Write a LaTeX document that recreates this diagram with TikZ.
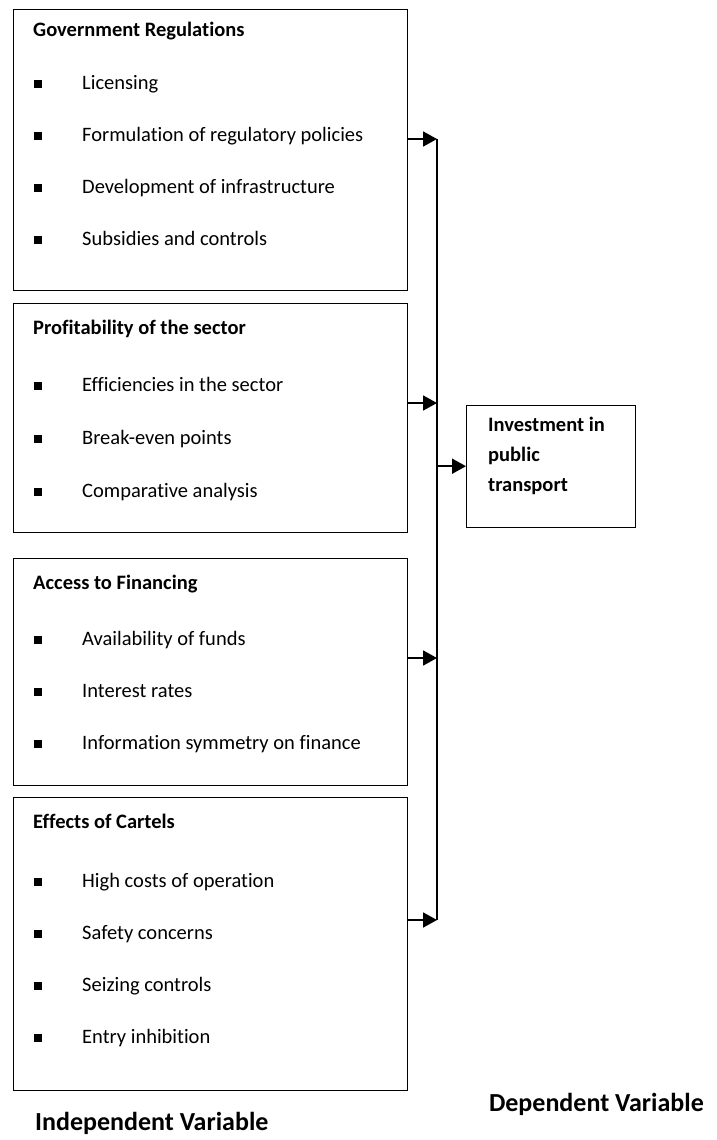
\documentclass[tikz,border=0pt]{standalone}
\usepackage{fontspec}
\setmainfont{Carlito}[Ligatures = NoCommon]
\usepackage{tikz}
\usetikzlibrary{arrows.meta}

\begin{document}
\begin{tikzpicture}[x=1pt, y=-1pt,
		factorbox/.style = {draw = black, line width = 1.4pt, anchor = north west, minimum width = 394pt, inner sep = 0pt},
		head/.style = {anchor = base west, inner sep = 0pt, font = \fontsize{20.5}{30}\selectfont\bfseries},
		entry/.style = {anchor = base west, inner sep = 0pt, font = \fontsize{20.5}{30}\selectfont},
		sqbullet/.style = {fill = black, minimum size = 7.2pt, inner sep = 0pt},
		link/.style = {line width = 1.8pt, -{Triangle[length = 14pt, width = 15pt]}},
		varlabel/.style = {inner sep = 0pt, font = \fontsize{26}{30}\selectfont\bfseries}]
	\useasboundingbox (0,0) rectangle (716,1140);

	\node[factorbox, minimum height = 281pt] (gov) at (13,9) {};
	\node[head] (govT) at (33,37) {Government Regulations};
	\node[sqbullet] (govB1) at (38,84) {};
	\node[entry] (govI1) at (82,89) {Licensing};
	\node[sqbullet] (govB2) at (38,136) {};
	\node[entry] (govI2) at (82,141) {Formulation of regulatory policies};
	\node[sqbullet] (govB3) at (38,188) {};
	\node[entry] (govI3) at (82,193) {Development of infrastructure};
	\node[sqbullet] (govB4) at (38,240) {};
	\node[entry] (govI4) at (82,245) {Subsidies and controls};

	\node[factorbox, minimum height = 229pt] (prof) at (13,303) {};
	\node[head] (profT) at (33,334) {Profitability of the sector};
	\node[sqbullet] (profB1) at (38,386) {};
	\node[entry] (profI1) at (82,391) {Efficiencies in the sector};
	\node[sqbullet] (profB2) at (38,439) {};
	\node[entry] (profI2) at (82,444) {Break-even points};
	\node[sqbullet] (profB3) at (38,492) {};
	\node[entry] (profI3) at (82,497) {Comparative analysis};

	\node[factorbox, minimum height = 227pt] (fin) at (13,558) {};
	\node[head] (finT) at (33,589) {Access to Financing};
	\node[sqbullet] (finB1) at (38,640) {};
	\node[entry] (finI1) at (82,645) {Availability of funds};
	\node[sqbullet] (finB2) at (38,692) {};
	\node[entry] (finI2) at (82,697) {Interest rates};
	\node[sqbullet] (finB3) at (38,744) {};
	\node[entry] (finI3) at (82,749) {Information symmetry on finance};

	\node[factorbox, minimum height = 293pt] (cart) at (13,797) {};
	\node[head] (cartT) at (33,828) {Effects of Cartels};
	\node[sqbullet] (cartB1) at (38,882) {};
	\node[entry] (cartI1) at (82,887) {High costs of operation};
	\node[sqbullet] (cartB2) at (38,934) {};
	\node[entry] (cartI2) at (82,939) {Safety concerns};
	\node[sqbullet] (cartB3) at (38,986) {};
	\node[entry] (cartI3) at (82,991) {Seizing controls};
	\node[sqbullet] (cartB4) at (38,1038) {};
	\node[entry] (cartI4) at (82,1043) {Entry inhibition};

	\node[draw = black, line width = 1.4pt, anchor = north west, minimum width = 169pt, minimum height = 122pt, inner sep = 0pt] (inv) at (466,404.5) {};
	\node[head, anchor = north west, align = left] (invT) at (488,417) {Investment in\\public\\transport};

	\coordinate (bus1) at (437,139);
	\coordinate (bus2) at (437,403);
	\coordinate (bus3) at (437,658);
	\coordinate (bus4) at (437,920);
	\draw[line width = 1.4pt] (bus1) -- (bus4);
	\draw[link] (gov.east |- bus1) -- (bus1);
	\draw[link] (prof.east |- bus2) -- (bus2);
	\draw[link] (fin.east |- bus3) -- (bus3);
	\draw[link] (cart.east |- bus4) -- (bus4);
	\draw[link] (bus1 |- inv.west) -- (inv.west);

	\node[varlabel, anchor = base west] (indep) at (35,1130) {Independent Variable};
	\node[varlabel, anchor = base east] (dep) at (704,1111) {Dependent Variable};
\end{tikzpicture}
\end{document}
